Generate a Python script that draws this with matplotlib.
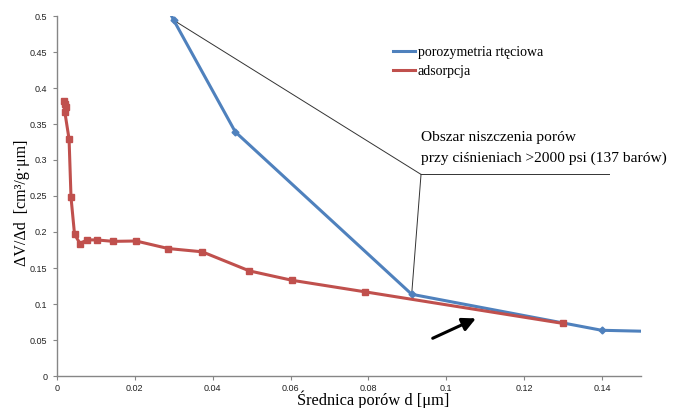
import matplotlib
matplotlib.use("Agg")
import matplotlib.pyplot as plt
from matplotlib.lines import Line2D

# Data
ads_x = [0.0018, 0.0021, 0.0024, 0.0020, 0.0031, 0.0036, 0.0045, 0.0059, 0.0077, 0.0102,
         0.0144, 0.0203, 0.0286, 0.0373, 0.0494, 0.0603, 0.0790, 0.1300]
ads_y = [0.382, 0.378, 0.374, 0.367, 0.329, 0.248, 0.197, 0.184, 0.189, 0.189,
         0.187, 0.1875, 0.177, 0.1725, 0.146, 0.133, 0.117, 0.073]
hg_x = [0.0285, 0.0300, 0.0458, 0.0911, 0.1399, 0.1520]
hg_y = [0.510, 0.494, 0.339, 0.1135, 0.0635, 0.0620]

x_ticks = [0, 0.02, 0.04, 0.06, 0.08, 0.1, 0.12, 0.14]
x_ticklabels = ["0", "0.02", "0.04", "0.06", "0.08", "0.1", "0.12", "0.14"]
y_ticks = [0, 0.05, 0.1, 0.15, 0.2, 0.25, 0.3, 0.35, 0.4, 0.45, 0.5]
y_ticklabels = ["0", "0.05", "0.1", "0.15", "0.2", "0.25", "0.3", "0.35", "0.4", "0.45", "0.5"]

blue = "#4F81BD"
red = "#C0504D"
serif = "Liberation Serif"

fig = plt.figure(figsize=(6.73, 4.08), dpi=100)
ax = fig.add_axes([57/673, 1-376/408, (641-57)/673, (376-16)/408])

ax.plot(hg_x, hg_y, color=blue, lw=2.2, marker="D", ms=3.5, zorder=3)
ax.plot(ads_x, ads_y, color=red, lw=2.2, marker="s", ms=5, zorder=4)

ax.set_xlim(0, 0.15)
ax.set_ylim(0, 0.5)
ax.set_xticks(x_ticks)
ax.set_xticklabels(x_ticklabels)
ax.set_yticks(y_ticks)
ax.set_yticklabels(y_ticklabels)
for s in ["top", "right"]:
    ax.spines[s].set_visible(False)
for s in ["left", "bottom"]:
    ax.spines[s].set_color("#868686")
    ax.spines[s].set_linewidth(1.0)
ax.tick_params(axis="both", direction="out", length=3, width=0.8, color="#868686",
               labelsize=6.5, labelcolor="#222222")
ax.tick_params(axis="x", pad=2.5)
ax.tick_params(axis="y", pad=4)
for lab in ax.get_xticklabels() + ax.get_yticklabels():
    lab.set_family("Liberation Sans")

# annotation lines
kx, ky = 0.0935, 0.280
ax.plot([0.0300, kx], [0.494, ky], color="#333333", lw=0.7, zorder=2)
ax.plot([kx, 0.1419], [ky, ky], color="#333333", lw=0.7, zorder=2)
ax.plot([kx, 0.0911], [ky, 0.1135], color="#333333", lw=0.7, zorder=2)
fig.text(421/673, 1-138/408, "Obszar niszczenia porów", family=serif, fontsize=11.1,
         ha="left", va="center")
fig.text(421/673, 1-158/408, "przy ciśnieniach >2000 psi (137 barów)", family=serif,
         fontsize=11.1, ha="left", va="center")

# arrow
ax.annotate("", xy=(0.1076, 0.080), xytext=(0.0965, 0.0524),
            arrowprops=dict(arrowstyle="-|>,head_length=0.8,head_width=0.4",
                            color="black", lw=2.2, shrinkA=0, shrinkB=0))

# legend
handles = [Line2D([], [], color=blue, lw=2.2), Line2D([], [], color=red, lw=2.2)]
labels = ["porozymetria rtęciowa", "adsorpcja"]
ax.legend(handles, labels, loc="upper left", bbox_to_anchor=((387-57)/584, 1-24/360),
          frameon=False, prop={"family": serif, "size": 10}, handlelength=1.6,
          handletextpad=0.2, labelspacing=0.45, borderaxespad=0)

fig.text(373/673, 1-400/408, "Średnica porów d [μm]", family=serif, fontsize=11.8,
         ha="center", va="center")
fig.text(22/673, 1-203/408, "ΔV/Δd  [cm³/g·μm]", family=serif, fontsize=11.5,
         ha="center", va="center", rotation=90)

fig.savefig("out.png", dpi=100)
